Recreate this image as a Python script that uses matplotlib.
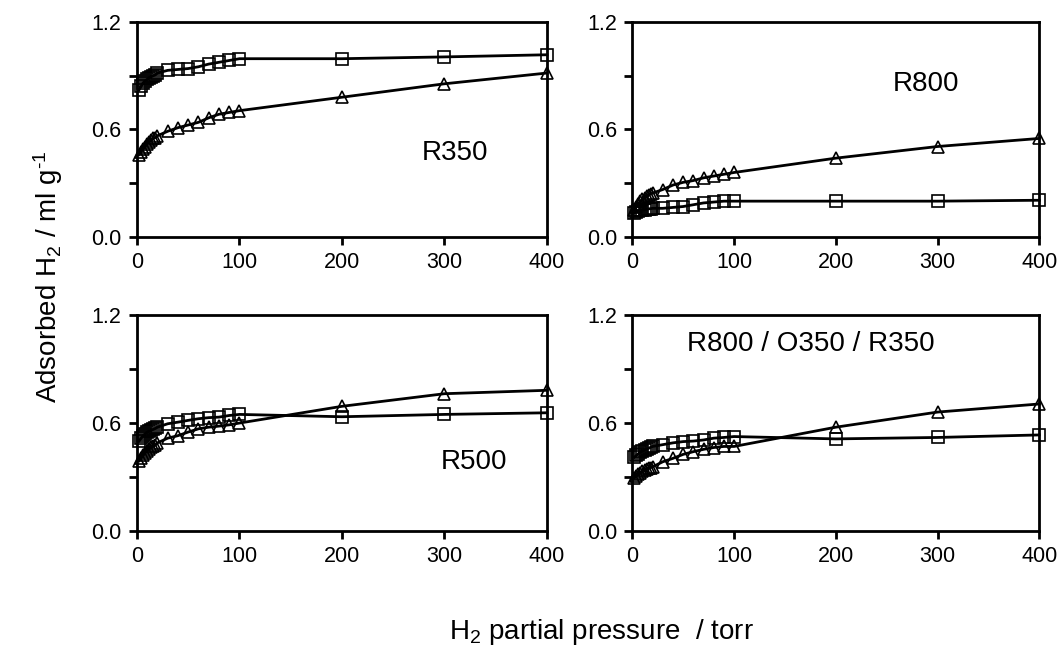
"""H2 adsorption isotherms, four pretreatments (2x2 panels)."""
import numpy as np
import matplotlib
matplotlib.use("Agg")
import matplotlib.pyplot as plt
from matplotlib.ticker import MultipleLocator

plt.rcParams.update({"font.family": ["Liberation Sans", "DejaVu Sans"], "font.size": 13,
                     "axes.linewidth": 2.0, "mathtext.fontset": "custom",
                     "mathtext.rm": "Liberation Sans", "mathtext.it": "Liberation Sans"})

# pressure points (torr)
P = [2, 4, 6, 8, 10, 12, 14, 16, 18, 20, 30, 40, 50, 60, 70, 80, 90, 100, 200, 300, 400]

# adsorbed H2 (ml/g): squares and triangles per panel
r350_sq = [0.82, 0.84, 0.86, 0.87, 0.88, 0.89, 0.895, 0.90, 0.905, 0.915, 0.93, 0.935,
           0.94, 0.95, 0.965, 0.975, 0.985, 0.995, 0.995, 1.005, 1.017]
r350_tri = [0.46, 0.475, 0.49, 0.505, 0.52, 0.53, 0.54, 0.55, 0.555, 0.565, 0.59, 0.61,
            0.625, 0.64, 0.665, 0.685, 0.695, 0.705, 0.78, 0.855, 0.915]
r800_sq = [0.135, 0.14, 0.145, 0.148, 0.15, 0.152, 0.155, 0.157, 0.158, 0.16, 0.16, 0.165,
           0.17, 0.18, 0.19, 0.195, 0.2, 0.2, 0.2, 0.2, 0.205]
r800_tri = [0.15, 0.17, 0.185, 0.2, 0.21, 0.22, 0.23, 0.235, 0.24, 0.245, 0.265, 0.29,
            0.305, 0.315, 0.33, 0.34, 0.35, 0.36, 0.44, 0.505, 0.55]
r500_sq = [0.50, 0.515, 0.53, 0.54, 0.55, 0.555, 0.56, 0.565, 0.57, 0.577, 0.596, 0.605,
           0.615, 0.624, 0.63, 0.633, 0.642, 0.648, 0.635, 0.648, 0.657]
r500_tri = [0.39, 0.405, 0.42, 0.435, 0.445, 0.455, 0.465, 0.47, 0.478, 0.49, 0.516, 0.53,
            0.55, 0.568, 0.577, 0.583, 0.59, 0.60, 0.693, 0.763, 0.782]
rox_sq = [0.41, 0.42, 0.43, 0.44, 0.445, 0.45, 0.455, 0.46, 0.465, 0.47, 0.48, 0.49,
          0.497, 0.50, 0.506, 0.516, 0.52, 0.525, 0.512, 0.52, 0.534]
rox_tri = [0.296, 0.305, 0.315, 0.325, 0.335, 0.34, 0.345, 0.35, 0.353, 0.357, 0.385, 0.404,
           0.426, 0.441, 0.454, 0.464, 0.47, 0.47, 0.577, 0.661, 0.706]

panels = [("R350", r350_sq, r350_tri, (310, 0.47)),
          ("R800", r800_sq, r800_tri, (289, 0.855)),
          ("R500", r500_sq, r500_tri, (329, 0.385)),
          ("R800 / O350 / R350", rox_sq, rox_tri, (175, 1.04))]

fig = plt.figure(figsize=(10.6, 6.5), dpi=100)
boxes = [[0.1292, 0.6354, 0.3868, 0.3308], [0.5965, 0.6354, 0.3840, 0.3308],
         [0.1292, 0.1830, 0.3868, 0.3323], [0.5965, 0.1830, 0.3840, 0.3323]]

for box, (name, sq, tri, pos) in zip(boxes, panels):
    ax = fig.add_axes(box)
    kw = dict(color="black", lw=2.0, mfc="none", mec="black", mew=1.2, clip_on=False)
    ax.plot(P, sq, marker="s", ms=8.5, **kw)
    ax.plot(P, tri, marker="^", ms=8.5, **kw)
    ax.set_xlim(0, 400); ax.set_ylim(0, 1.2)
    ax.xaxis.set_major_locator(MultipleLocator(100))
    ax.yaxis.set_major_locator(MultipleLocator(0.6))
    ax.yaxis.set_minor_locator(MultipleLocator(0.3))
    ax.yaxis.set_major_formatter(lambda v, _: f"{v:.1f}")
    ax.tick_params(which="both", direction="out", length=6, width=2.0, top=False, right=False,
                   labelsize=15.5, pad=5)
    ax.text(*pos, name, fontsize=20, ha="center", va="center")

fig.text(0.045, 0.574, "Adsorbed H$_2$ / ml g$^{\\text{-}1}$", rotation=90, fontsize=20,
         ha="center", va="center")
fig.text(0.567, 0.028, "H$_2$ partial pressure  / torr", fontsize=20, ha="center", va="center")
fig.savefig("out.png", dpi=100)
